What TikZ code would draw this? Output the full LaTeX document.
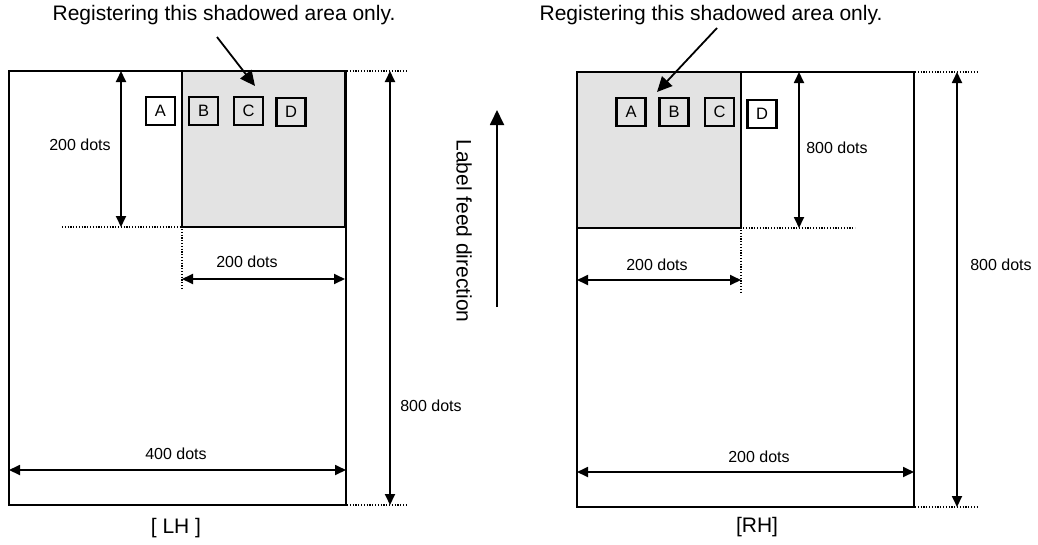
\documentclass[tikz,border=0pt]{standalone}
\usepackage{fontspec}
\setmainfont{Liberation Sans}
\usetikzlibrary{arrows.meta}
\definecolor{shade}{HTML}{E3E3E3}
\tikzset{
  outerbox/.style={draw=black, line width=2pt},
  shadebox/.style={draw=black, fill=shade, line width=2.6pt},
  letterbox/.style={draw=black, line width=2.6pt, minimum width=29pt, minimum height=28pt, inner sep=0pt, font=\fontsize{16.5}{18}\selectfont},
  dim/.style={line width=1.8pt, {Triangle[length=11pt,width=10pt]}-{Triangle[length=11pt,width=10pt]}},
  onearrow/.style={line width=1.8pt, -{Triangle[length=15pt,width=14pt]}},
  dots/.style={line width=1.4pt, dash pattern=on 1.2pt off 1.6pt},
  lbl/.style={font=\fontsize{16}{18}\selectfont, inner sep=0pt},
  big/.style={font=\fontsize{21}{24}\selectfont, inner sep=0pt}
}
\begin{document}
\begin{tikzpicture}[x=1pt,y=-1pt]
\useasboundingbox (0,0) rectangle (1038,544);
% ---------------- LH ----------------
\coordinate (LoTL) at (9,71);
\coordinate (LoBR) at (346,505);
\coordinate (LsTL) at (182,71);
\coordinate (LsBR) at (345,227);
\draw[outerbox] (LoTL) rectangle (LoBR);
\draw[shadebox] (LsTL) rectangle (LsBR);
\node[letterbox] (LA) at (160.5,111) {A};
\node[letterbox] (LB) at (203.5,111) {B};
\node[letterbox] (LC) at (248.5,111) {C};
\node[letterbox] (LD) at (291,112) {D};
\node[big] (Ltitle) at (224,15) {Registering this shadowed area only.};
\coordinate (LarrS) at (217,37);
\coordinate (LarrE) at (255,86);
\draw[onearrow] (LarrS) -- (LarrE);
% 200 dots vertical
\coordinate (Lv1) at (121,71);
\coordinate (Lv2) at (121,227);
\draw[dim] (Lv1) -- (Lv2);
\node[lbl] (Lvl) at (80,145) {200 dots};
\coordinate (Ld1) at (62,227);
\coordinate (Ld2) at (180,227);
\draw[dots] (Ld1) -- (Ld2);
\coordinate (Ld3) at (182,229);
\coordinate (Ld4) at (182,290);
\draw[dots] (Ld3) -- (Ld4);
% 200 dots horizontal
\coordinate (Lh1) at (182,279);
\coordinate (Lh2) at (345,279);
\draw[dim] (Lh1) -- (Lh2);
\node[lbl] (Lhl) at (247,262) {200 dots};
% 800 dots
\coordinate (L81) at (390,71);
\coordinate (L82) at (390,505);
\draw[dim] (L81) -- (L82);
\node[lbl] (L8l) at (431,406) {800 dots};
\coordinate (Lt1) at (347,71);
\coordinate (Lt2) at (408,71);
\draw[dots] (Lt1) -- (Lt2);
\coordinate (Lb1) at (347,505);
\coordinate (Lb2) at (408,505);
\draw[dots] (Lb1) -- (Lb2);
% 400 dots
\coordinate (L41) at (9,470);
\coordinate (L42) at (346,470);
\draw[dim] (L41) -- (L42);
\node[lbl] (L4l) at (176,454) {400 dots};
\node[big] (LH) at (176,528) {[ LH ]};
% ---------------- feed ----------------
\coordinate (F1) at (497,307);
\coordinate (F2) at (497,110);
\draw[onearrow] (F1) -- (F2);
\node[big, rotate=-90] (Ftext) at (464,231) {Label feed direction};
% ---------------- RH ----------------
\coordinate (RoTL) at (577,72);
\coordinate (RoBR) at (914,507);
\coordinate (RsTL) at (577,72);
\coordinate (RsBR) at (741,228);
\draw[outerbox] (RoTL) rectangle (RoBR);
\draw[shadebox] (RsTL) rectangle (RsBR);
\node[letterbox] (RA) at (631,112) {A};
\node[letterbox] (RB) at (674,112) {B};
\node[letterbox] (RC) at (719.5,112) {C};
\node[letterbox] (RD) at (762,114) {D};
\node[big] (Rtitle) at (711,15) {Registering this shadowed area only.};
\coordinate (RarrS) at (717,28);
\coordinate (RarrE) at (657,92);
\draw[onearrow] (RarrS) -- (RarrE);
% 800 inner
\coordinate (Rv1) at (799,72);
\coordinate (Rv2) at (799,228);
\draw[dim] (Rv1) -- (Rv2);
\node[lbl] (Rvl) at (837,148) {800 dots};
\coordinate (Rd1) at (743,228);
\coordinate (Rd2) at (855,228);
\draw[dots] (Rd1) -- (Rd2);
\coordinate (Rd3) at (741,230);
\coordinate (Rd4) at (741,293);
\draw[dots] (Rd3) -- (Rd4);
% 200 inner
\coordinate (Rh1) at (577,280);
\coordinate (Rh2) at (741,280);
\draw[dim] (Rh1) -- (Rh2);
\node[lbl] (Rhl) at (657,265) {200 dots};
% 800 outer
\coordinate (R81) at (957,72);
\coordinate (R82) at (957,507);
\draw[dim] (R81) -- (R82);
\node[lbl] (R8l) at (1001,265) {800 dots};
\coordinate (Rt1) at (915,72);
\coordinate (Rt2) at (977,72);
\draw[dots] (Rt1) -- (Rt2);
\coordinate (Rb1) at (915,507);
\coordinate (Rb2) at (977,507);
\draw[dots] (Rb1) -- (Rb2);
% 200 outer
\coordinate (R21) at (577,472);
\coordinate (R22) at (914,472);
\draw[dim] (R21) -- (R22);
\node[lbl] (R2l) at (759,457) {200 dots};
\node[big] (RH) at (757,527) {[RH]};
\end{tikzpicture}
\end{document}
